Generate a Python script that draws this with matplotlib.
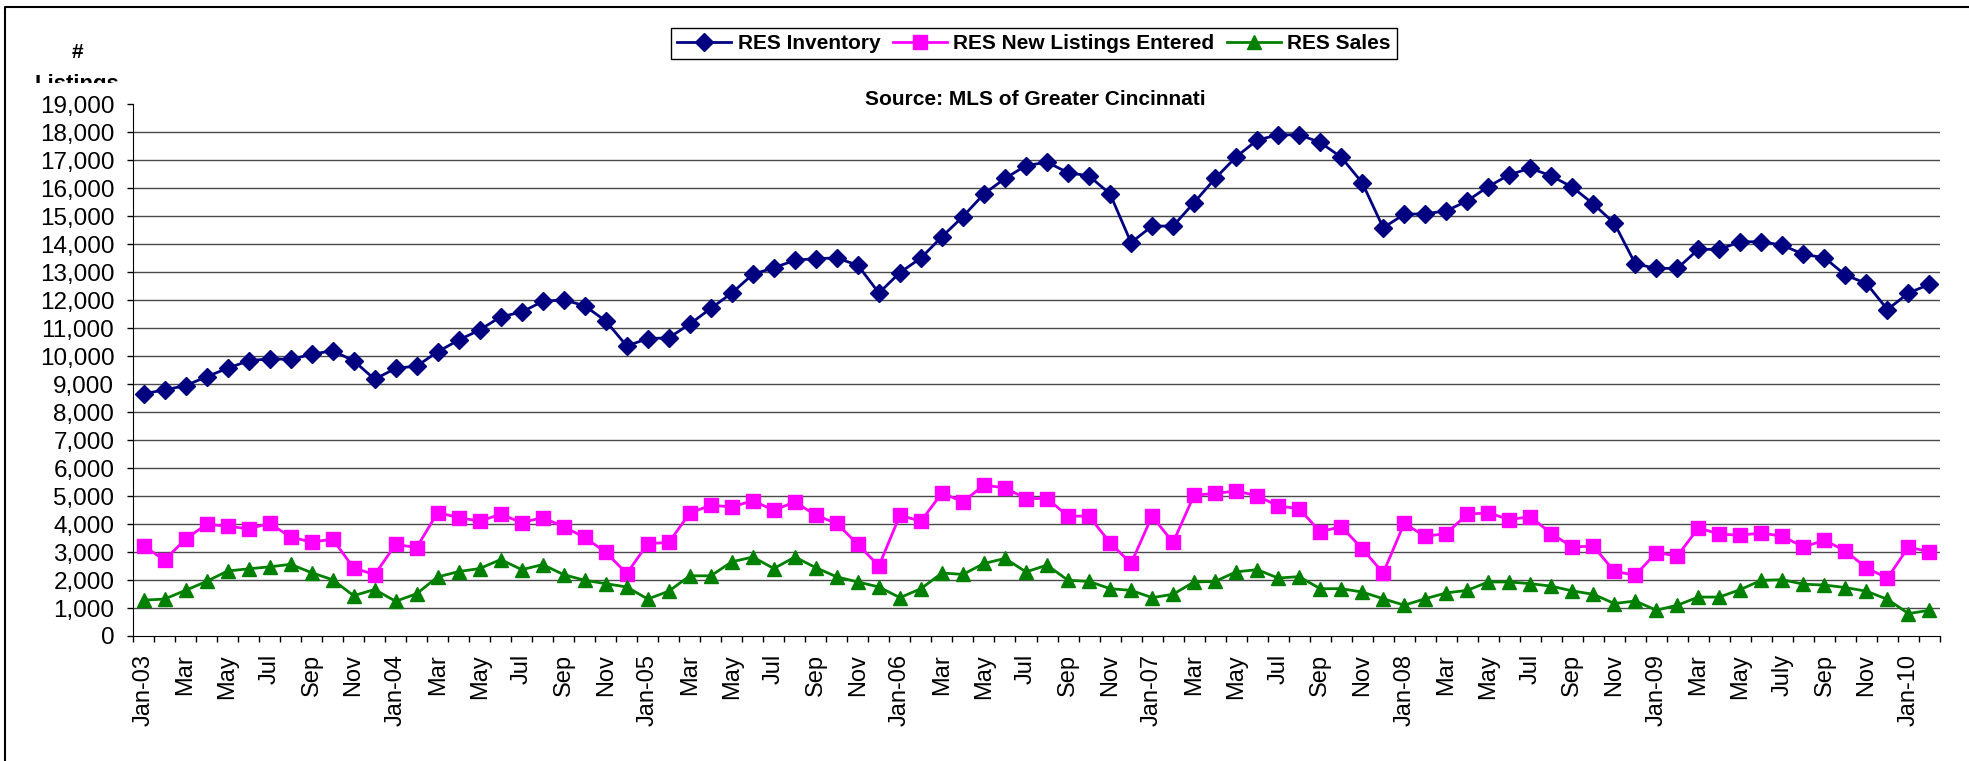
import matplotlib
matplotlib.use("Agg")
import matplotlib.pyplot as plt
import numpy as np
from matplotlib.lines import Line2D
from matplotlib.patches import Rectangle

plt.rcParams['font.family'] = ['Liberation Sans', 'DejaVu Sans']

# monthly values Jan-03 .. Feb-10
inventory = [8650, 8790, 8940, 9260, 9560, 9830, 9900, 9880, 10060, 10190, 9830, 9170,
             9560, 9640, 10150, 10570, 10930, 11400, 11570, 11950, 12010, 11790, 11250, 10360,
             10620, 10650, 11140, 11700, 12250, 12920, 13150, 13420, 13480, 13500, 13240, 12250,
             12980, 13500, 14260, 14980, 15790, 16340, 16800, 16920, 16550, 16430, 15790, 14050,
             14640, 14640, 15480, 16340, 17110, 17710, 17900, 17900, 17630, 17100, 16190, 14580,
             15060, 15080, 15180, 15540, 16050, 16470, 16710, 16430, 16030, 15430, 14740, 13290,
             13130, 13130, 13810, 13810, 14080, 14080, 13960, 13630, 13510, 12890, 12590, 11660,
             12250, 12560]
new_listings = [3220, 2710, 3460, 3990, 3920, 3830, 4020, 3540, 3350, 3460, 2430, 2190,
                3270, 3160, 4410, 4230, 4100, 4350, 4050, 4230, 3900, 3520, 2990, 2230,
                3300, 3340, 4390, 4670, 4610, 4830, 4490, 4790, 4310, 4020, 3270, 2500,
                4310, 4100, 5110, 4790, 5390, 5290, 4910, 4910, 4280, 4280, 3330, 2590,
                4280, 3340, 5030, 5090, 5180, 5010, 4640, 4550, 3720, 3910, 3120, 2250,
                4020, 3560, 3660, 4350, 4400, 4160, 4260, 3660, 3180, 3210, 2310, 2170,
                2980, 2860, 3860, 3640, 3600, 3680, 3560, 3180, 3420, 3040, 2430, 2070,
                3180, 3000]
sales = [1280, 1320, 1630, 1950, 2320, 2400, 2470, 2560, 2260, 2010, 1440, 1660,
         1240, 1510, 2110, 2300, 2410, 2730, 2370, 2550, 2190, 1990, 1870, 1750,
         1320, 1600, 2150, 2150, 2650, 2820, 2410, 2820, 2440, 2110, 1930, 1750,
         1370, 1690, 2250, 2200, 2590, 2770, 2290, 2530, 1990, 1950, 1690, 1630,
         1370, 1490, 1930, 1950, 2290, 2370, 2070, 2120, 1690, 1690, 1570, 1330,
         1100, 1330, 1540, 1630, 1930, 1930, 1870, 1780, 1610, 1490, 1160, 1250,
         920, 1100, 1390, 1390, 1660, 1990, 2010, 1850, 1820, 1730, 1600, 1310,
         800, 920]

tick_labels = ["Jan-03", "Mar", "May", "Jul", "Sep", "Nov",
               "Jan-04", "Mar", "May", "Jul", "Sep", "Nov",
               "Jan-05", "Mar", "May", "Jul", "Sep", "Nov",
               "Jan-06", "Mar", "May", "Jul", "Sep", "Nov",
               "Jan-07", "Mar", "May", "Jul", "Sep", "Nov",
               "Jan-08", "Mar", "May", "Jul", "Sep", "Nov",
               "Jan-09", "Mar", "May", "July", "Sep", "Nov",
               "Jan-10"]

W, H = 1969, 761
fig = plt.figure(figsize=(W / 100, H / 100), dpi=100)
ax = fig.add_axes([133 / W, 1 - 636 / H, (1940 - 133) / W, (636 - 104) / H])

x = np.arange(len(inventory))
ax.plot(x, inventory, color='#000080', lw=2, marker='D', ms=9, label='RES Inventory')
ax.plot(x, new_listings, color='#FF00FF', lw=2, marker='s', ms=9.5, label='RES New Listings Entered')
ax.plot(x, sales, color='#008000', lw=2, marker='^', ms=10, label='RES Sales')

ax.set_xlim(-0.5, len(x) - 0.5)
ax.set_ylim(0, 19000)
ax.set_yticks(np.arange(0, 19001, 1000))
ax.set_yticklabels([f"{v:,}" for v in range(0, 19001, 1000)])
for v in range(1000, 19000, 1000):
    ax.axhline(v, color='#4a4a4a', lw=1, zorder=0)

ax.set_xticks(np.arange(0, len(x), 2))
ax.set_xticklabels(tick_labels, rotation=90)
ax.set_xticks(np.arange(-0.5, len(x), 1), minor=True)
ax.tick_params(axis='x', which='major', length=0, pad=13, labelsize=17)
ax.tick_params(axis='x', which='minor', length=4.5, width=1, direction='out')
ax.tick_params(axis='y', length=4.5, width=1, pad=9, labelsize=17.5)

for s in ['top', 'right']:
    ax.spines[s].set_visible(False)
ax.spines['left'].set_color('black')
ax.spines['bottom'].set_color('black')

fig.legend(loc='center', bbox_to_anchor=(1034 / W, 1 - 43.5 / H), ncol=3,
           prop={'weight': 'bold', 'size': 15}, frameon=True, fancybox=False,
           edgecolor='black', framealpha=1, handlelength=2.6, handletextpad=0.3,
           columnspacing=0.6, borderpad=0.3, borderaxespad=0)

fig.text(1035 / W, 1 - 99.5 / H, "Source: MLS of Greater Cincinnati",
         ha='center', va='center', fontsize=15, fontweight='bold')

fig.text(77 / W, 1 - 52 / H, "#", ha='center', va='center', fontsize=15, fontweight='bold')
lab = fig.text(77 / W, 1 - 90 / H, "Listings", ha='center', va='baseline',
               fontsize=16, fontweight='bold')
lab.set_clip_path(Rectangle((0, 1 - 83 / H), 1, 83 / H, transform=fig.transFigure))

# outer frame (open at right and bottom)
fig.add_artist(Line2D([4.5 / W, 4.5 / W, 1], [0, 1 - 6.7 / H, 1 - 6.7 / H],
                      transform=fig.transFigure, color='black', lw=1.5))

fig.savefig("out.png", dpi=100)
